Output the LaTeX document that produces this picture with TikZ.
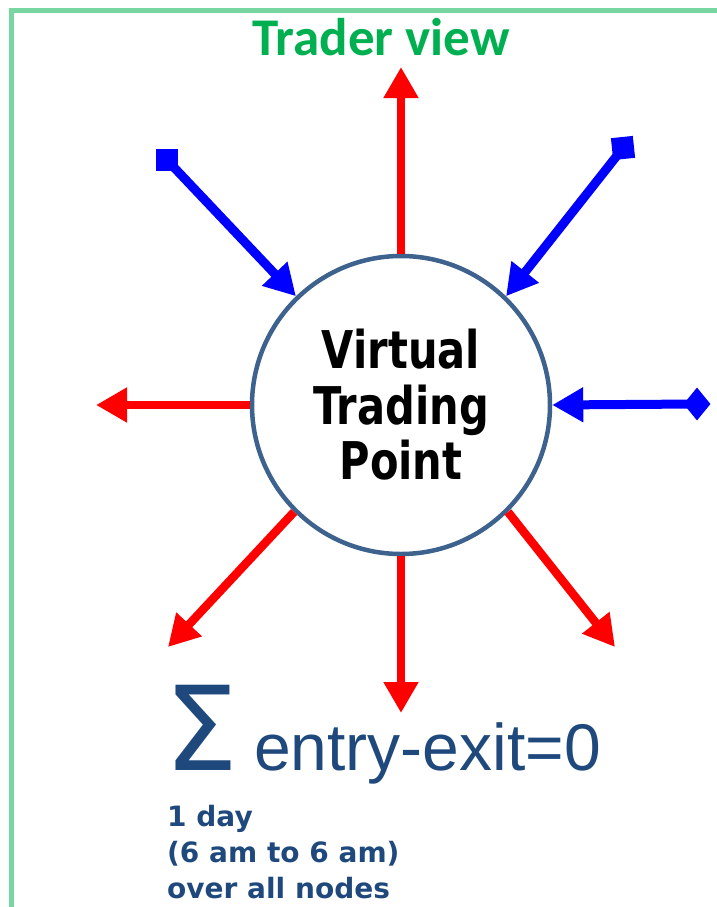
\documentclass[tikz,border=0pt]{standalone}
\usepackage{fontspec}
\usepackage{tikz}
\usetikzlibrary{arrows.meta,shapes.geometric,positioning}

\newfontfamily\calibrifont{Carlito}
\newfontfamily\tahomafont[FakeStretch=0.8]{DejaVu Sans}
\newfontfamily\verdanafont{DejaVu Sans}
\newfontfamily\arialfont{Liberation Sans}

\definecolor{framegreen}{RGB}{120,215,160}
\definecolor{titlegreen}{RGB}{0,176,80}
\definecolor{ringblue}{RGB}{62,98,142}
\definecolor{noteblue}{RGB}{31,73,125}

\tikzset{
  redarr/.style={draw=red, line width=8.5pt, -{Triangle[length=31pt,width=33pt]}},
  bluearr/.style={draw=blue, line width=9pt, -{Triangle[length=31pt,width=33pt]}},
  sqend/.style={fill=blue, minimum size=22pt, inner sep=0pt},
  dmdend/.style={diamond, fill=blue, minimum width=27pt, minimum height=33pt, inner sep=0pt}
}

\begin{document}
\begin{tikzpicture}[x=1pt,y=-1pt]
\useasboundingbox (0,0) rectangle (717,907);
\draw[framegreen, line width=5pt] (717,11) -- (11.5,11) -- (11.5,907);
\node[anchor=base, text=titlegreen, font=\calibrifont\bfseries\fontsize{53}{60}\selectfont] (title) at (381,56) {Trader view};

% the trading point
\node[circle, draw=ringblue, line width=4.5pt, minimum size=298pt, align=center,
      font=\tahomafont\bfseries\fontsize{52}{55.5}\selectfont] (vtp) at (401,405) {Virtual\\Trading\\Point};

% exits
\coordinate (exN) at (401,67);
\coordinate (exW) at (96,405);
\coordinate (exS) at (401,713);
\coordinate (exSW) at (168,647);
\coordinate (exSE) at (615,647);
\draw[redarr] (vtp.north) -- (exN);
\draw[redarr] (vtp.west) -- (exW);
\draw[redarr] (vtp.south) -- (exS);
\draw[redarr] (vtp.225) -- (exSW);
\draw[redarr] (vtp.315) -- (exSE);

% entries
\node[sqend] (enNW) at (167,160) {};
\node[sqend, rotate=6] (enNE) at (623,148) {};
\node[dmdend] (enE) at (697,404) {};
\draw[bluearr] (enNW.center) -- (vtp.134);
\draw[bluearr] (enNE.center) -- (vtp.46);
\draw[bluearr] (enE.center) -- (vtp.east);

% balance
\node[anchor=base west, inner sep=0pt, text=noteblue, font=\verdanafont\fontsize{117}{120}\selectfont] (sigma) at (164,770) {Σ};
\node[anchor=base west, inner sep=0pt, text=noteblue, font=\arialfont\fontsize{66}{70}\selectfont] (balance) at (254,770) {entry-exit=0};
\node[anchor=base west, inner sep=0pt, align=left, text=noteblue, font=\verdanafont\bfseries\fontsize{28}{36}\selectfont] (period) at (167,898) {1 day\\(6 am to 6 am)\\over all nodes};
\end{tikzpicture}
\end{document}
